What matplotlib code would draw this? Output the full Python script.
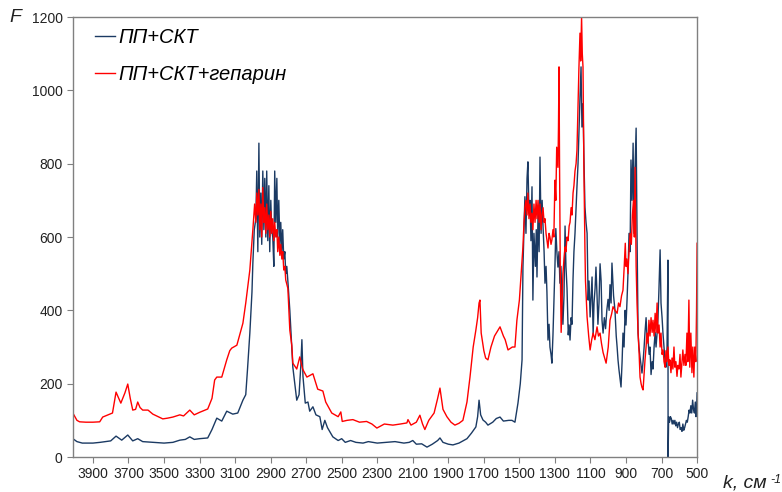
import matplotlib.pyplot as plt

plt.rcParams['font.family'] = ['Liberation Sans', 'DejaVu Sans']

# ПП+СКТ (dark blue)
k_blue = [4013, 3990, 3960, 3900, 3860, 3800, 3770, 3738, 3704, 3676, 3648, 3620, 3560, 3500,
          3450, 3411, 3380, 3355, 3330, 3300, 3254, 3230, 3203, 3175, 3147, 3113, 3085, 3056,
          3040, 3030, 3017, 3005, 3000, 2992, 2983, 2978, 2972, 2966, 2961, 2955, 2950, 2944,
          2938, 2933, 2927, 2922, 2916, 2910, 2905, 2899, 2894, 2888, 2882, 2877, 2871, 2865,
          2860, 2854, 2848, 2843, 2837, 2832, 2826, 2820, 2815, 2809, 2803, 2792, 2775, 2753,
          2740, 2730, 2724, 2718, 2705, 2690, 2680, 2662, 2645, 2623, 2610, 2595, 2580, 2550,
          2520, 2500, 2480, 2450, 2420, 2380, 2350, 2300, 2250, 2200, 2150, 2120, 2100, 2080,
          2050, 2020, 1990, 1960, 1947, 1930, 1900, 1874, 1840, 1795, 1770, 1745, 1735, 1727,
          1718, 1705, 1690, 1677, 1650, 1630, 1609, 1590, 1560, 1542, 1525, 1508, 1495, 1485,
          1480, 1474, 1469, 1463, 1457, 1452, 1446, 1440, 1435, 1429, 1424, 1418, 1410, 1405,
          1401, 1395, 1389, 1384, 1378, 1372, 1367, 1361, 1356, 1350, 1345, 1339, 1333, 1328,
          1322, 1317, 1311, 1306, 1300, 1295, 1289, 1283, 1277, 1272, 1266, 1260, 1255, 1249,
          1243, 1238, 1232, 1225, 1220, 1215, 1209, 1204, 1198, 1193, 1187, 1181, 1176, 1170,
          1165, 1159, 1153, 1148, 1142, 1137, 1131, 1125, 1119, 1113, 1108, 1102, 1096, 1091,
          1085, 1080, 1074, 1069, 1063, 1058, 1052, 1046, 1040, 1035, 1029, 1022, 1015, 1008,
          1001, 995, 990, 984, 979, 973, 970, 962, 955, 950, 945, 940, 935, 928, 922, 917, 911,
          905, 900, 894, 889, 883, 877, 872, 866, 860, 855, 849, 843, 838, 832, 827, 821, 815,
          810, 804, 798, 793, 787, 782, 776, 770, 765, 759, 753, 748, 742, 736, 731, 725, 720,
          715, 708, 703, 697, 692, 686, 680, 675, 669, 664, 663, 660, 655, 650, 645, 640, 635,
          630, 625, 620, 615, 610, 605, 600, 595, 590, 585, 580, 575, 570, 565, 560, 555, 550,
          545, 540, 535, 530, 525, 520, 515, 510, 506, 502, 500]
f_blue = [50, 42, 38, 38, 40, 44, 57, 46, 60, 44, 50, 42, 40, 38,
          40, 46, 48, 55, 48, 50, 52, 75, 106, 98, 125, 117, 120, 155,
          170, 240, 338, 450, 529, 620, 650, 780, 560, 856, 600, 720, 580, 780,
          620, 760, 600, 780, 590, 740, 560, 700, 620, 600, 520, 780, 640, 760,
          600, 700, 580, 640, 560, 620, 540, 560, 500, 520, 480, 400, 245, 155,
          170, 250, 320, 220, 147, 150, 125, 137, 115, 110, 75, 100, 80, 55,
          45, 50, 40, 45, 40, 38, 42, 38, 40, 42, 38, 40, 45, 35,
          36, 27, 35, 45, 52, 40, 35, 33, 38, 50, 65, 82, 110, 155,
          115, 101, 95, 87, 95, 105, 109, 98, 100, 100, 95, 147, 200, 265,
          518, 620, 710, 610, 760, 805, 665, 700, 590, 737, 428, 610, 520, 620,
          491, 665, 560, 818, 610, 700, 630, 560, 474, 520, 450, 319, 362, 300,
          280, 256, 333, 420, 518, 623, 560, 518, 560, 474, 520, 420, 362, 440,
          630, 520, 460, 333, 360, 319, 380, 362, 488, 560, 610, 680, 737, 800,
          884, 980, 1064, 900, 964, 820, 682, 640, 610, 428, 480, 382, 440, 491,
          333, 420, 460, 518, 440, 362, 420, 527, 480, 373, 338, 380, 350, 400,
          430, 400, 470, 420, 529, 470, 440, 400, 330, 300, 265, 240, 220, 191, 260, 338, 300,
          400, 360, 430, 500, 610, 560, 810, 700, 856, 610, 790, 897, 610, 338, 300, 273, 250,
          229, 260, 300, 340, 380, 330, 320, 280, 300, 225, 260, 240, 300, 340, 300, 338, 380,
          450, 565, 420, 380, 338, 300, 260, 245, 300, 537, 0, 110, 95, 110, 105, 90, 100,
          90, 100, 85, 95, 80, 90, 95, 75, 80, 70, 90, 73, 80, 90, 100, 95, 110,
          128, 120, 140, 120, 155, 130, 120, 150, 110, 140, 175]

# ПП+СКТ+гепарин (red)
k_red = [4013, 3990, 3975, 3940, 3900, 3862, 3845, 3805, 3790, 3770, 3755, 3743, 3720, 3704,
         3690, 3676, 3660, 3648, 3635, 3620, 3590, 3563, 3507, 3480, 3450, 3411, 3390, 3355,
         3330, 3299, 3254, 3230, 3215, 3203, 3175, 3147, 3130, 3119, 3090, 3056, 3040, 3017,
         3000, 2990, 2983, 2978, 2972, 2966, 2961, 2955, 2950, 2944, 2938, 2933, 2927, 2922,
         2916, 2910, 2905, 2899, 2894, 2888, 2882, 2877, 2871, 2865, 2860, 2854, 2848, 2843,
         2837, 2832, 2826, 2820, 2815, 2803, 2792, 2781, 2775, 2753, 2736, 2720, 2696, 2662,
         2635, 2606, 2590, 2556, 2520, 2505, 2497, 2470, 2437, 2400, 2360, 2330, 2302, 2260,
         2212, 2170, 2133, 2127, 2110, 2080, 2060, 2045, 2032, 2010, 1980, 1960, 1947, 1930,
         1908, 1885, 1863, 1840, 1818, 1795, 1778, 1760, 1745, 1735, 1727, 1722, 1715, 1700,
         1690, 1677, 1660, 1640, 1609, 1590, 1580, 1564, 1540, 1525, 1514, 1500, 1490, 1480,
         1474, 1469, 1463, 1457, 1452, 1446, 1440, 1435, 1429, 1424, 1418, 1412, 1406, 1401,
         1395, 1389, 1384, 1378, 1373, 1367, 1361, 1356, 1350, 1345, 1339, 1333, 1328, 1322,
         1317, 1311, 1306, 1300, 1295, 1290, 1283, 1280, 1277, 1274, 1270, 1265, 1260, 1255,
         1249, 1243, 1238, 1232, 1226, 1220, 1215, 1209, 1204, 1198, 1193, 1187, 1181, 1176,
         1170, 1165, 1159, 1155, 1150, 1146, 1142, 1137, 1131, 1128, 1119, 1110, 1102, 1093,
         1085, 1075, 1063, 1055, 1046, 1038, 1029, 1020, 1012, 1000, 990, 981, 973, 962, 950,
         942, 934, 925, 917, 910, 904, 900, 895, 889, 883, 877, 870, 864, 858, 853, 849, 845,
         843, 838, 832, 826, 821, 815, 810, 804, 798, 793, 787, 782, 776, 771, 765, 759, 753,
         748, 742, 736, 731, 725, 720, 714, 708, 703, 697, 691, 686, 680, 675, 670, 664, 658,
         653, 647, 641, 636, 630, 625, 619, 613, 608, 602, 596, 591, 585, 580, 574, 568, 563,
         557, 552, 546, 541, 535, 529, 524, 518, 513, 507, 503, 500]
f_red = [120, 100, 96, 95, 95, 96, 109, 117, 120, 177, 160, 147, 175, 199,
         160, 128, 130, 150, 135, 128, 128, 117, 104, 106, 109, 115, 112, 128,
         115, 122, 131, 160, 210, 218, 218, 265, 290, 297, 305, 365, 420, 510,
         620, 690, 640, 720, 660, 730, 620, 690, 600, 735, 640, 680, 610, 690,
         620, 660, 600, 670, 610, 650, 590, 640, 600, 620, 560, 600, 550, 580,
         540, 560, 510, 520, 483, 460, 346, 305, 256, 240, 273, 240, 218, 227,
         185, 180, 150, 120, 110, 123, 97, 100, 102, 95, 97, 90, 79, 90,
         87, 90, 93, 102, 87, 95, 114, 90, 75, 100, 120, 160, 188, 130,
         110, 95, 87, 92, 100, 150, 218, 300, 346, 380, 420, 428, 338, 290,
         270, 265, 300, 330, 355, 330, 320, 292, 300, 300, 373, 428, 500, 573,
         640, 680, 700, 660, 720, 650, 690, 640, 665, 620, 690, 640, 700, 650,
         700, 640, 690, 620, 660, 680, 640, 650, 610, 592, 570, 610, 600, 580,
         592, 620, 600, 755, 700, 845, 790, 900, 1064, 800, 520, 340, 420, 500,
         540, 573, 560, 600, 590, 630, 640, 680, 660, 720, 740, 780, 800, 837,
         964, 1060, 1156, 1080, 1200, 1100, 1064, 790, 565, 480, 382, 330, 292, 320,
         338, 320, 355, 330, 338, 310, 285, 270, 256, 300, 373, 390, 410, 400, 392,
         420, 410, 440, 455, 520, 583, 520, 540, 500, 560, 610, 580, 660, 700, 600, 790, 600,
         520, 420, 338, 280, 218, 200, 190, 183, 230, 265, 300, 338, 310, 373, 330, 380, 340,
         373, 330, 392, 340, 420, 338, 360, 300, 338, 280, 292, 260, 245, 290, 260, 300, 250,
         265, 230, 270, 240, 300, 245, 260, 220, 250, 240, 280, 218, 260, 292, 250, 280, 250,
         338, 260, 428, 245, 338, 230, 300, 218, 300, 260, 400, 583]

xticks = [3900, 3700, 3500, 3300, 3100, 2900, 2700, 2500, 2300, 2100, 1900, 1700, 1500, 1300,
          1100, 900, 700, 500]
yticks = [0, 200, 400, 600, 800, 1000, 1200]

fig = plt.figure(figsize=(7.82, 4.92), dpi=100)
ax = fig.add_axes([0.0934, 0.0711, 0.7980, 0.8943])

ax.plot(k_blue, f_blue, color='#1b3a63', lw=1.0, label='ПП+СКТ')
ax.plot(k_red, f_red, color='#ff0000', lw=1.0, label='ПП+СКТ+гепарин')

ax.set_xlim(4012, 500)
ax.set_ylim(0, 1200)
ax.set_xticks(xticks)
ax.set_yticks(yticks)
ax.tick_params(axis='both', colors='#808080', labelcolor='#222222', labelsize=10,
               direction='out', length=4, width=0.8)
for s in ax.spines.values():
    s.set_color('#808080')
    s.set_linewidth(1.0)

leg = ax.legend(loc='upper left', bbox_to_anchor=(0.035, 0.974), frameon=False,
                borderpad=0, borderaxespad=0,
                handlelength=1.0, handletextpad=0.15, labelspacing=0.85,
                prop={'style': 'italic', 'size': 14.5})

fig.text(0.012, 0.955, 'F', fontsize=14, style='italic', color='#222222')
fig.text(0.925, 0.01, 'k, см', fontsize=14, style='italic', color='#222222')
fig.text(0.985, 0.018, '-1', fontsize=9, style='italic', color='#222222')

fig.savefig('out.png', dpi=100)
